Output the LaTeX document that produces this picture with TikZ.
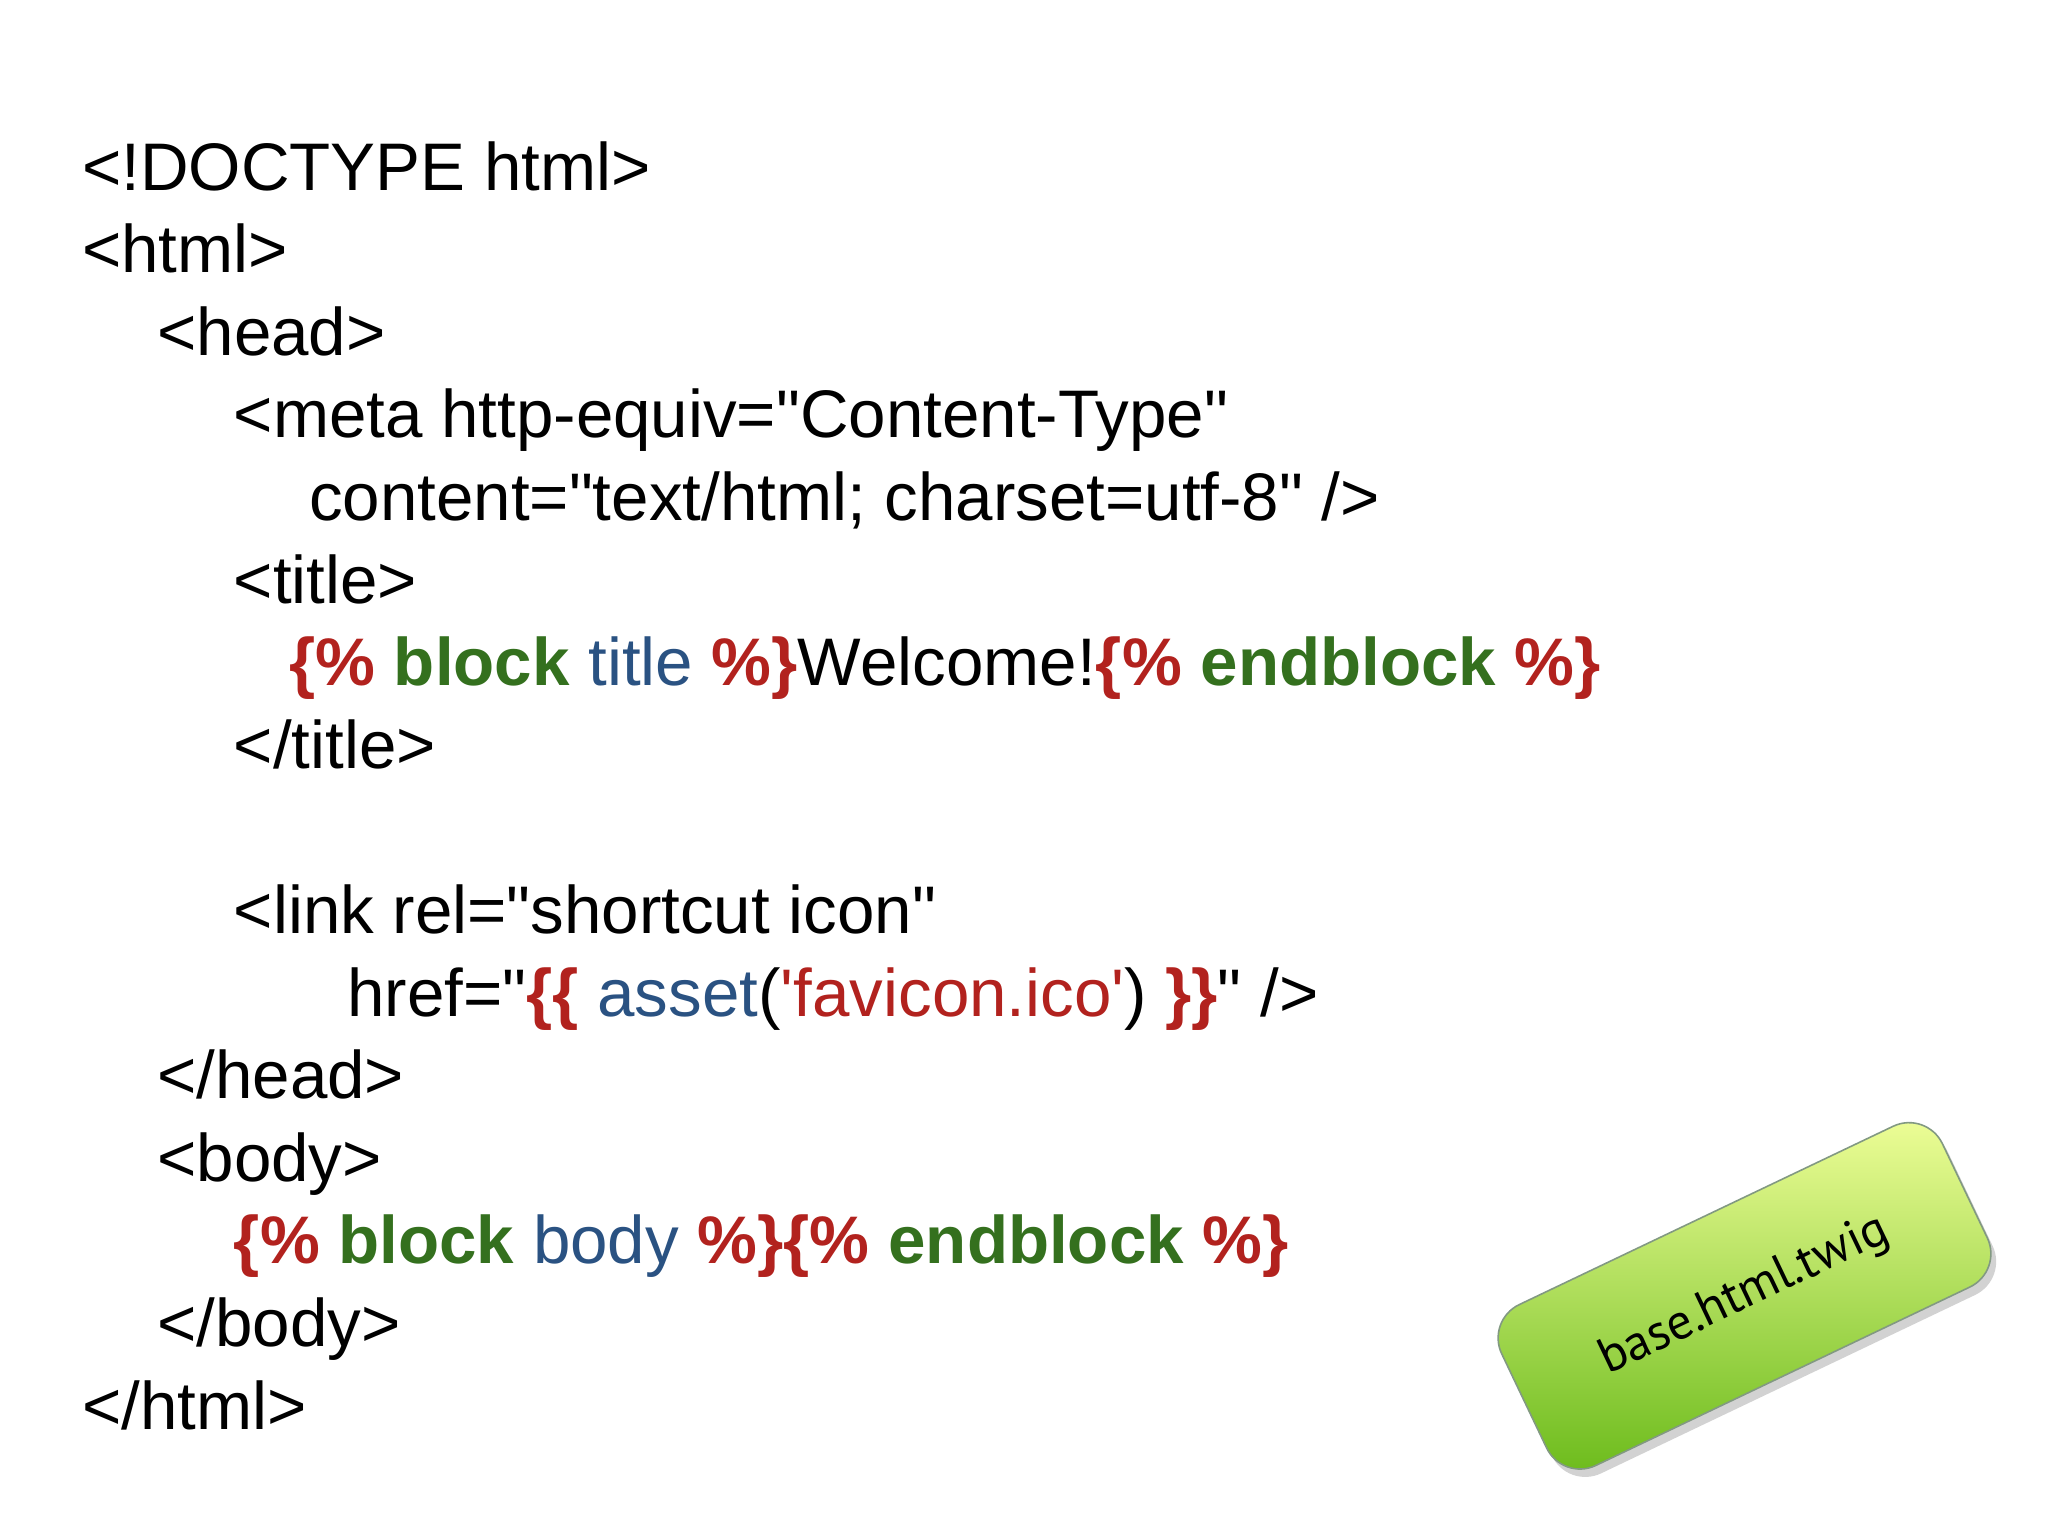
\documentclass[tikz,border=0pt]{standalone}
\usepackage{fontspec}
\setmainfont{Liberation Sans}[Ligatures=TeXOff]
\newfontfamily\labelfont{PT Sans}
\usetikzlibrary{shadows}
\definecolor{tred}{RGB}{178,34,30}
\definecolor{tgreen}{RGB}{52,112,30}
\definecolor{tblue}{RGB}{42,82,130}
\newcommand{\R}[1]{\textcolor{tred}{\textbf{#1}}}
\newcommand{\G}[1]{\textcolor{tgreen}{\textbf{#1}}}
\newcommand{\B}[1]{\textcolor{tblue}{#1}}
\newcommand{\dq}{"}
\newcommand{\sq}{'}
\begin{document}
\begin{tikzpicture}[x=1pt,y=1pt,
  codeline/.style={anchor=base west,inner sep=0pt,font=\fontsize{51}{60}\selectfont}]
\useasboundingbox[fill=white] (0,0) rectangle (1552,-1164);
\def\ln#1{-144-62.6*#1}
\node[codeline] (l0) at (62,{\ln{0}}) {<!DOCTYPE html>};
\node[codeline] (l1) at (62,{\ln{1}}) {<html>};
\node[codeline] (l2) at (119,{\ln{2}}) {<head>};
\node[codeline] (l3) at (177,{\ln{3}}) {<meta http-equiv=\dq Content-Type\dq};
\node[codeline] (l4) at (234,{\ln{4}}) {content=\dq text/html; charset=utf-8\dq\ />};
\node[codeline] (l5) at (177,{\ln{5}}) {<title>};
\node[codeline] (l6) at (219,{\ln{6}}) {\R{\{\%} \G{block} \B{title} \R{\%\}}Welcome!\R{\{\%} \G{endblock} \R{\%\}}};
\node[codeline] (l7) at (177,{\ln{7}}) {</title>};
\node[codeline] (l9) at (177,{\ln{9}}) {<link rel=\dq shortcut icon\dq};
\node[codeline] (l10) at (263,{\ln{10}}) {href=\dq\R{\{\{} \B{asset}(\textcolor{tred}{\sq favicon.ico\sq}) \R{\}\}}\dq\ />};
\node[codeline] (l11) at (119,{\ln{11}}) {</head>};
\node[codeline] (l12) at (119,{\ln{12}}) {<body>};
\node[codeline] (l13) at (177,{\ln{13}}) {\R{\{\%} \G{block} \B{body} \R{\%\}}\R{\{\%} \G{endblock} \R{\%\}}};
\node[codeline] (l14) at (119,{\ln{14}}) {</body>};
\node[codeline] (l15) at (62,{\ln{15}}) {</html>};
\node[rotate=25.5,minimum width=370,minimum height=135,rounded corners=28,
  draw=white!85!green!60!black,line width=1.2,
  top color=green!15!yellow!40!white,bottom color=green!50!yellow!70!black!90,
  drop shadow={shadow xshift=4,shadow yshift=-6,opacity=0.35},
  font=\labelfont\fontsize{38}{44}\selectfont] (tag) at (1322,-982) {base.html.twig};
\end{tikzpicture}
\end{document}
